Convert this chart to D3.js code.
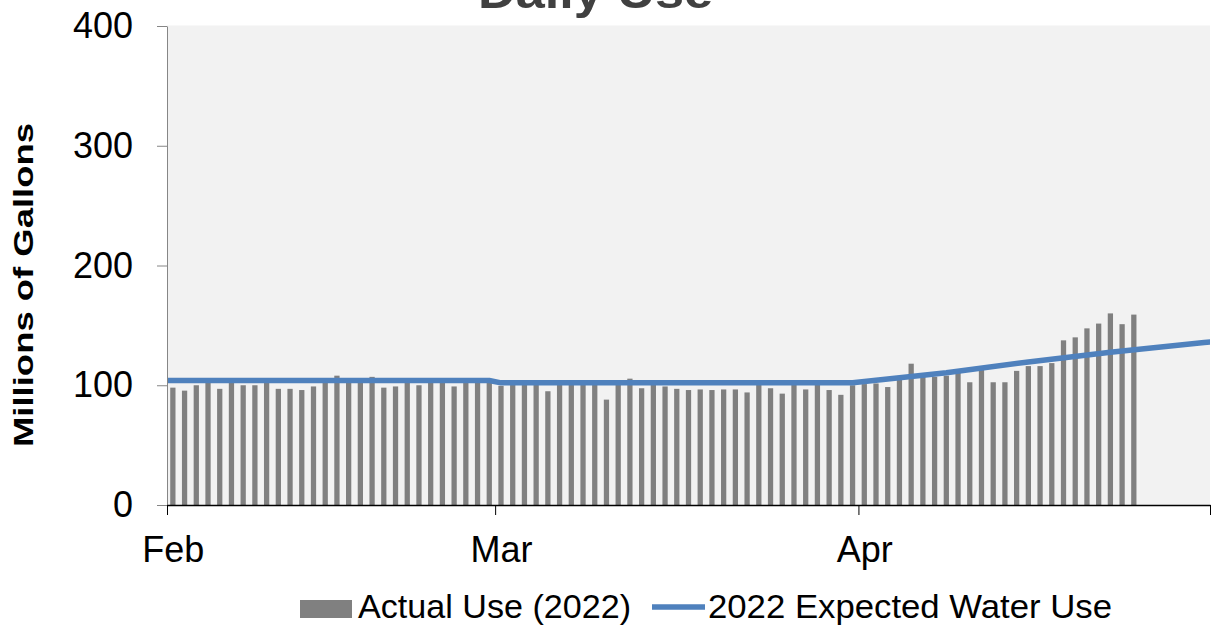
<!DOCTYPE html>
<html>
<head>
<meta charset="utf-8">
<script src="https://cdn.jsdelivr.net/npm/d3@7"></script>
<style>
  html, body { margin: 0; padding: 0; background: #ffffff; }
  svg { display: block; font-family: "Liberation Sans", Arial, sans-serif; }
</style>
</head>
<body>
<svg id="chart" width="1212" height="626"></svg>
<script>
// Daily actual water use, Feb 1 – Apr 24, 2022 (millions of gallons)
const actualStart = "2022-02-01";
const actualUse = [
  // Feb
  98, 95.5, 100, 103, 97, 103, 100, 100, 103, 97, 97, 96, 99, 103,
  108, 103, 103, 107, 98, 99, 103, 100, 103, 103, 99, 103, 103, 103,
  // Mar
  99.5, 101, 101, 101, 95, 101, 101, 101, 101, 88, 101, 105.5, 97.5, 101,
  99, 97, 96, 96.5, 96, 96.5, 96.5, 94, 101, 97.5, 93, 101, 96.5, 101,
  96, 92, 100,
  // Apr
  101, 101.5, 98.5, 104.5, 118, 107, 107, 108, 111, 102.5, 113, 102.5,
  102.5, 112, 116, 116, 118.5, 137.5, 140, 147.5, 151.5, 160, 151, 159
];

// 2022 expected water use (line vertices)
const expectedDates = ["2022-01-31", "2022-02-28", "2022-03-01", "2022-03-31",
                       "2022-04-08", "2022-04-15", "2022-04-22", "2022-04-30", "2022-05-01"];
const expectedValues = [104, 104, 102, 102, 110.5, 119.5, 127.5, 135.7, 136.7];

// Axis ticks
const monthTicks = ["2022-02-01", "2022-03-01", "2022-04-01", "2022-05-01"];
const monthLabels = ["Feb", "Mar", "Apr", ""];
const yTicks = [0, 100, 200, 300, 400];

const titleText = "Daily Use";
const yTitle = "Millions of Gallons";
const seriesNames = ["Actual Use (2022)", "2022 Expected Water Use"];

const parse = d3.utcParse("%Y-%m-%d");
const plot = { left: 167, right: 1210, top: 25.5, bottom: 505 };

const svg = d3.select("#chart");

const x = d3.scaleUtc()
  .domain([parse(monthTicks[0]), parse(monthTicks[monthTicks.length - 1])])
  .range([plot.left, plot.right]);
const y = d3.scaleLinear().domain([0, 400]).range([plot.bottom, 26]);

const start = parse(actualStart);
const step = x(d3.utcDay.offset(start, 1)) - x(start);
const barW = step * 0.45;
const mid = d => d3.utcHour.offset(d, 12);

// plot area
svg.append("rect")
  .attr("x", plot.left).attr("y", plot.top)
  .attr("width", plot.right - plot.left).attr("height", plot.bottom - plot.top)
  .attr("fill", "#f2f2f2");

svg.append("clipPath").attr("id", "plotClip")
  .append("rect")
  .attr("x", plot.left).attr("y", plot.top)
  .attr("width", plot.right - plot.left).attr("height", plot.bottom - plot.top);

// bars
const actual = actualUse.map((v, i) => ({ date: d3.utcDay.offset(start, i), value: v }));
svg.append("g").selectAll("rect")
  .data(actual)
  .join("rect")
  .attr("x", d => x(mid(d.date)) - barW / 2)
  .attr("width", barW)
  .attr("y", d => y(d.value))
  .attr("height", d => y(0) - y(d.value))
  .attr("fill", "#808080");

// expected line
const expected = expectedDates.map((d, i) => ({ date: parse(d), value: expectedValues[i] }));
svg.append("path")
  .datum(expected)
  .attr("clip-path", "url(#plotClip)")
  .attr("fill", "none")
  .attr("stroke", "#4f81bd")
  .attr("stroke-width", 5.5)
  .attr("stroke-linejoin", "round")
  .attr("d", d3.line().x(d => x(mid(d.date))).y(d => y(d.value)));

// y axis
const yAxis = svg.append("g")
  .attr("transform", `translate(${plot.left},0)`)
  .call(d3.axisLeft(y).tickValues(yTicks).tickSize(10).tickPadding(24).tickSizeOuter(0));
yAxis.select(".domain").attr("stroke", "#868686");
yAxis.selectAll(".tick line").attr("stroke", "#868686");
yAxis.selectAll("text")
  .attr("font-size", 36).attr("fill", "#000")
  .attr("font-family", "'Liberation Sans', Arial, sans-serif");

// x axis
const xAxis = svg.append("g")
  .attr("transform", `translate(0,${plot.bottom})`)
  .call(d3.axisBottom(x)
    .tickValues(monthTicks.map(parse))
    .tickFormat((d, i) => monthLabels[i])
    .tickSize(10).tickSizeOuter(0));
xAxis.select(".domain").attr("stroke", "#000").attr("stroke-width", 1.3);
xAxis.selectAll(".tick line").attr("stroke", "#000");
xAxis.selectAll("text")
  .attr("x", step / 2).attr("y", 56.5).attr("dy", 0)
  .attr("font-size", 36).attr("fill", "#000")
  .attr("font-family", "'Liberation Sans', Arial, sans-serif");

// title
svg.append("text")
  .attr("x", 595.5).attr("y", 8.3)
  .attr("text-anchor", "middle")
  .attr("font-size", 46).attr("font-weight", "bold")
  .attr("fill", "#404040")
  .attr("textLength", 235).attr("lengthAdjust", "spacingAndGlyphs")
  .text(titleText);

// y axis title
svg.append("text")
  .attr("transform", "translate(33,285) rotate(-90)")
  .attr("text-anchor", "middle")
  .attr("font-size", 28).attr("font-weight", "bold")
  .attr("fill", "#000")
  .attr("textLength", 324).attr("lengthAdjust", "spacingAndGlyphs")
  .text(yTitle);

// legend
const legend = svg.append("g");
legend.append("rect")
  .attr("x", 300).attr("y", 600).attr("width", 52).attr("height", 18)
  .attr("fill", "#808080");
legend.append("text")
  .attr("x", 358).attr("y", 617.5)
  .attr("font-size", 34).attr("fill", "#000")
  .attr("textLength", 273).attr("lengthAdjust", "spacingAndGlyphs")
  .text(seriesNames[0]);
legend.append("line")
  .attr("x1", 652).attr("x2", 705).attr("y1", 607).attr("y2", 607)
  .attr("stroke", "#4f81bd").attr("stroke-width", 5.5);
legend.append("text")
  .attr("x", 708).attr("y", 617.5)
  .attr("font-size", 34).attr("fill", "#000")
  .attr("textLength", 404).attr("lengthAdjust", "spacingAndGlyphs")
  .text(seriesNames[1]);
</script>
</body>
</html>
